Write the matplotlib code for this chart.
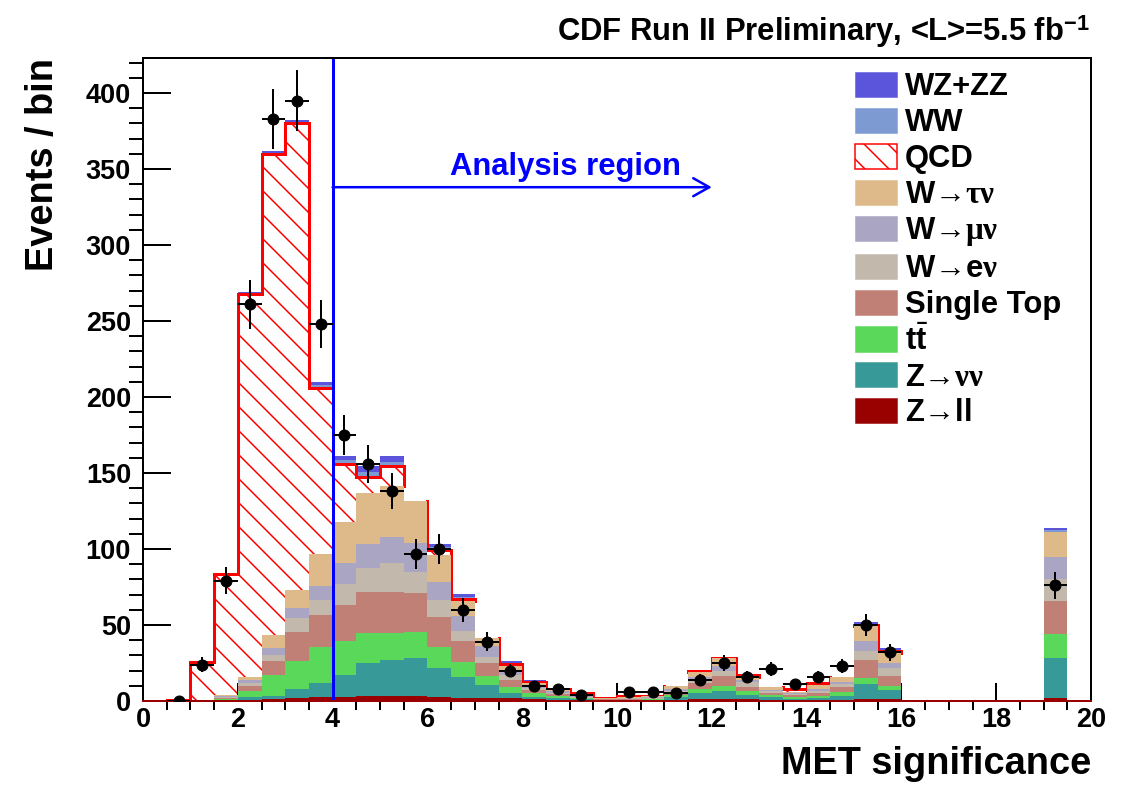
import numpy as np
import matplotlib
matplotlib.use('Agg')
import matplotlib.pyplot as plt
from matplotlib.patches import Patch
from matplotlib.collections import LineCollection

plt.rcParams['font.family'] = ['Liberation Sans', 'DejaVu Sans']
plt.rcParams['font.weight'] = 'bold'
plt.rcParams['mathtext.fontset'] = 'custom'
plt.rcParams['mathtext.rm'] = 'Liberation Serif'
plt.rcParams['mathtext.it'] = 'Liberation Serif:italic'
plt.rcParams['mathtext.bf'] = 'Liberation Sans:bold'
plt.rcParams['hatch.linewidth'] = 1.5

# MET significance bins, width 0.5 from 0 to 20
edges = np.arange(0, 20.01, 0.5)

# expected events per bin for each process (bottom of the stack first)
z_ll = [0, 0, 0, 0, 0.5, 1.0, 1.8, 2.6, 2.8, 3.3,
        3.3, 3.3, 2.9, 2.2, 2.2, 1.8, 1.0, 0.5, 0.3, 0.1,
        0.1, 0.1, 0.3, 1.3, 1.3, 1.0, 0.5, 0.4, 0.5, 0.8,
        1.3, 1.3, 0, 0, 0, 0, 0, 0, 2.2, 0]
z_nunu = [0, 0, 0.1, 0.3, 1.9, 2.3, 5.9, 9.4, 14.2, 21.7,
          23.7, 24.7, 18.6, 13.8, 8.3, 3.7, 1.9, 1.3, 0.7, 0.3,
          0.4, 0.5, 2.1, 3.7, 5.3, 2.9, 1.9, 1.1, 1.5, 2.7,
          9.9, 5.9, 0, 0, 0, 0, 0, 0, 26.3, 0]
ttbar = [0, 0, 0.1, 1.0, 4.4, 13.7, 18.8, 23.3, 22.5, 19.5,
         18.0, 17.6, 14.0, 9.9, 5.9, 3.5, 2.1, 1.2, 0.7, 0.3,
         0.4, 0.5, 1.6, 2.7, 3.4, 2.7, 1.5, 1.3, 1.3, 2.5,
         4.2, 2.7, 0, 0, 0, 0, 0, 0, 15.5, 0]
single_top = [0, 0, 0.1, 0.7, 3.1, 9.3, 19.1, 21.0, 23.5, 27.5,
              27.0, 25.7, 20.0, 13.6, 8.4, 4.8, 2.2, 1.5, 0.6, 0.3,
              0.5, 0.5, 1.5, 3.9, 6.4, 2.8, 1.6, 1.2, 1.7, 3.0,
              11.6, 6.5, 0, 0, 0, 0, 0, 0, 22.0, 0]
w_enu = [0, 0, 0.1, 0.6, 2.1, 3.7, 8.8, 10.1, 13.8, 15.7,
         18.6, 13.7, 10.9, 6.8, 4.2, 3.2, 1.3, 1.0, 0.5, 0.3,
         0.4, 0.4, 1.0, 2.2, 3.3, 3.3, 0.9, 0.7, 1.5, 2.0,
         5.9, 5.1, 0, 0, 0, 0, 0, 0, 14.3, 0]
w_munu = [0, 0, 0.1, 0.7, 1.8, 4.6, 6.6, 9.3, 13.8, 15.3,
          17.1, 18.7, 12.1, 9.7, 7.0, 3.4, 0.9, 1.0, 0.5, 0.3,
          0.4, 0.5, 1.5, 2.2, 3.3, 1.1, 0.8, 0.6, 1.5, 1.5,
          6.8, 3.3, 0, 0, 0, 0, 0, 0, 14.2, 0]
w_taunu = [0, 0, 0.1, 0.9, 2.2, 8.8, 12.0, 21.3, 27.4, 34.0,
           33.7, 27.9, 17.5, 10.0, 5.2, 2.6, 2.2, 1.3, 0.7, 0.6,
           0.7, 0.7, 1.9, 3.3, 5.0, 2.2, 1.8, 0.8, 2.5, 3.1,
           9.9, 6.6, 0, 0, 0, 0, 0, 0, 16.9, 0]
qcd = [0, 0.6, 24.9, 79.3, 252.0, 316.6, 307.0, 109.0, 38.0, 10.6,
       13.2, 0, 3.3, 1.0, 0, 1.3, 1.1, 0.2, 1.5, 0.1,
       0.1, 0.1, 0, 0.2, 0.2, 0.8, 0, 1.6, 1.1, 0,
       0.2, 1.6, 0, 0, 0, 0, 0, 0, 0, 0]
ww = [0, 0, 0, 0.1, 0.5, 0.7, 1.0, 2.0, 2.5, 2.9,
      2.9, 0.1, 2.0, 1.5, 0.1, 1.0, 0.5, 0.2, 0.1, 0,
      0, 0, 0.1, 0.4, 0.4, 0.3, 0.1, 0.1, 0.2, 0.1,
      0.9, 0.8, 0, 0, 0, 0, 0, 0, 1.1, 0]
wz_zz = [0, 0, 0.1, 0.2, 0.5, 0.8, 1.0, 2.0, 2.5, 4.0,
         3.5, 0.1, 2.2, 1.9, 0.1, 1.0, 0.6, 0.2, 0.1, 0.1,
         0.1, 0.1, 0.1, 0.5, 0.6, 0.4, 0.1, 0.1, 0.2, 0.1,
         1.1, 0.8, 0, 0, 0, 0, 0, 0, 1.3, 0]

# observed events (nan = bin not drawn)
data = [np.nan, 0, 24, 79, 261, 383, 395, 248, 175, 156,
        138, 97, 100, 60, 39, 20, 10, 8, 4, np.nan,
        6, 6, 5, 14, 25, 16, 21, 11, 16, 23,
        50, 32, np.nan, np.nan, np.nan, np.nan, np.nan, np.nan, 76, np.nan]

stack = [
    (z_ll, '#990000', r'Z$\mathrm{→}$ll'),
    (z_nunu, '#389999', r'Z$\mathrm{→νν}$'),
    (ttbar, '#5ad85a', r'$\mathbf{t}\bar{\mathbf{t}}$'),
    (single_top, '#c08075', 'Single Top'),
    (w_enu, '#c2b8ac', r'W$\mathrm{→}$e$\mathrm{ν}$'),
    (w_munu, '#a9a5c2', r'W$\mathrm{→μν}$'),
    (w_taunu, '#deba8a', r'W$\mathrm{→τν}$'),
    (qcd, 'qcd', 'QCD'),
    (ww, '#7d9bd2', 'WW'),
    (wz_zz, '#5b55db', 'WZ+ZZ'),
]

DPI = 72
fig = plt.figure(figsize=(1132 / DPI, 786 / DPI), dpi=DPI)
ax = fig.add_axes([143 / 1132, 85 / 786, 948 / 1132, 643 / 786])

bottom = np.zeros(len(edges) - 1)
handles = []
below_qcd = True
for vals, col, lab in stack:
    top = bottom + np.array(vals)
    if col == 'qcd':
        ax.stairs(top, edges, baseline=bottom, fill=True, facecolor='white',
                  edgecolor='red', hatch='\\', linewidth=0, zorder=1)
        qcd_lo, qcd_hi = bottom.copy(), top.copy()
        handles.append(Patch(facecolor='white', edgecolor='red', hatch='\\',
                             linewidth=1.5, label=lab))
        below_qcd = False
    else:
        ax.stairs(top, edges, baseline=bottom, fill=True, facecolor=col,
                  linewidth=0, zorder=3 if below_qcd else 1)
        handles.append(Patch(facecolor=col, edgecolor=col, linewidth=0.5, label=lab))
    bottom = top

# red QCD outline, only where QCD contributes
has_qcd = np.array(qcd) > 0
segs = []
nb = len(qcd)
for i in range(nb):
    if has_qcd[i]:
        segs.append([(edges[i], qcd_hi[i]), (edges[i + 1], qcd_hi[i])])
for k in range(nb + 1):
    a = k - 1 if k > 0 else None
    b = k if k < nb else None
    qa = a is not None and has_qcd[a]
    qb = b is not None and has_qcd[b]
    if qa and qb:
        segs.append([(edges[k], qcd_hi[a]), (edges[k], qcd_hi[b])])
    elif qa:
        lo = qcd_hi[b] if b is not None else 0
        segs.append([(edges[k], qcd_hi[a]), (edges[k], max(lo, qcd_lo[a]))])
    elif qb:
        lo = qcd_hi[a] if a is not None else 0
        segs.append([(edges[k], qcd_hi[b]), (edges[k], max(lo, qcd_lo[b]))])
ax.add_collection(LineCollection(segs, colors='red', linewidths=3,
                                 capstyle='projecting', zorder=2))

# Z->ll outline sits on the baseline across the whole range
ax.plot([0, 20], [0, 0], color='#990000', lw=2, zorder=7.5, clip_on=False)

# data with Poisson errors
centers = 0.5 * (edges[:-1] + edges[1:])
d = np.array(data)
ok = ~np.isnan(d)
ax.errorbar(centers[ok], d[ok], yerr=np.sqrt(d[ok]), xerr=0.25, fmt='o',
            color='black', markersize=11, elinewidth=2, capsize=0, zorder=8)

# analysis region marker
ax.axvline(4.0, color='blue', linewidth=3, zorder=5)
ax.annotate('', xy=(12.0, 338), xytext=(4.0, 338),
            arrowprops=dict(arrowstyle='->,head_length=0.8,head_width=0.45',
                            color='blue', lw=2.5, mutation_scale=20,
                            shrinkA=0, shrinkB=0), zorder=5)
ax.text(8.92, 346, 'Analysis region', color='blue', fontsize=31,
        fontweight='bold', ha='center', va='baseline', zorder=5)

ax.set_xlim(0, 20)
ax.set_ylim(0, 423)
ax.set_xticks(np.arange(0, 21, 2))
ax.set_xticks(np.arange(0, 20.01, 0.5), minor=True)
ax.set_yticks(np.arange(0, 401, 50))
ax.set_yticks(np.arange(0, 421, 10), minor=True)
ax.tick_params(axis='both', direction='in', labelsize=27, width=2,
               top=False, right=False)
ax.tick_params(axis='y', which='major', length=28, pad=12)
ax.tick_params(axis='y', which='minor', length=14, width=2)
ax.tick_params(axis='x', which='major', length=18, pad=6)
ax.tick_params(axis='x', which='minor', length=9, width=2)
for lbl in ax.get_xticklabels() + ax.get_yticklabels():
    lbl.set_fontweight('bold')
for sp in ax.spines.values():
    sp.set_linewidth(2)
    sp.set_zorder(7)

ax.set_ylabel('Events / bin', fontsize=38, fontweight='bold', loc='top')
ax.yaxis.set_label_coords(-0.087, 1.0)
ax.set_xlabel('MET significance', fontsize=38, fontweight='bold', loc='right')
ax.xaxis.set_label_coords(1.0, -0.07)

fig.text(1090 / 1132, 1 - 41 / 786,
         r'CDF Run II Preliminary, <L>=5.5 fb$^{\mathbf{-1}}$',
         fontsize=31, fontweight='bold', ha='right', va='baseline')

leg = ax.legend(handles=handles[::-1], loc='upper left',
                bbox_to_anchor=(855 / 1132, 1 - 72 / 786),
                bbox_transform=fig.transFigure, frameon=False,
                fontsize=31, handlelength=1.35, handleheight=0.87,
                handletextpad=0.26, labelspacing=0.18, borderpad=0,
                borderaxespad=0)
leg.set_zorder(8)

fig.savefig('out.png', dpi=DPI)
